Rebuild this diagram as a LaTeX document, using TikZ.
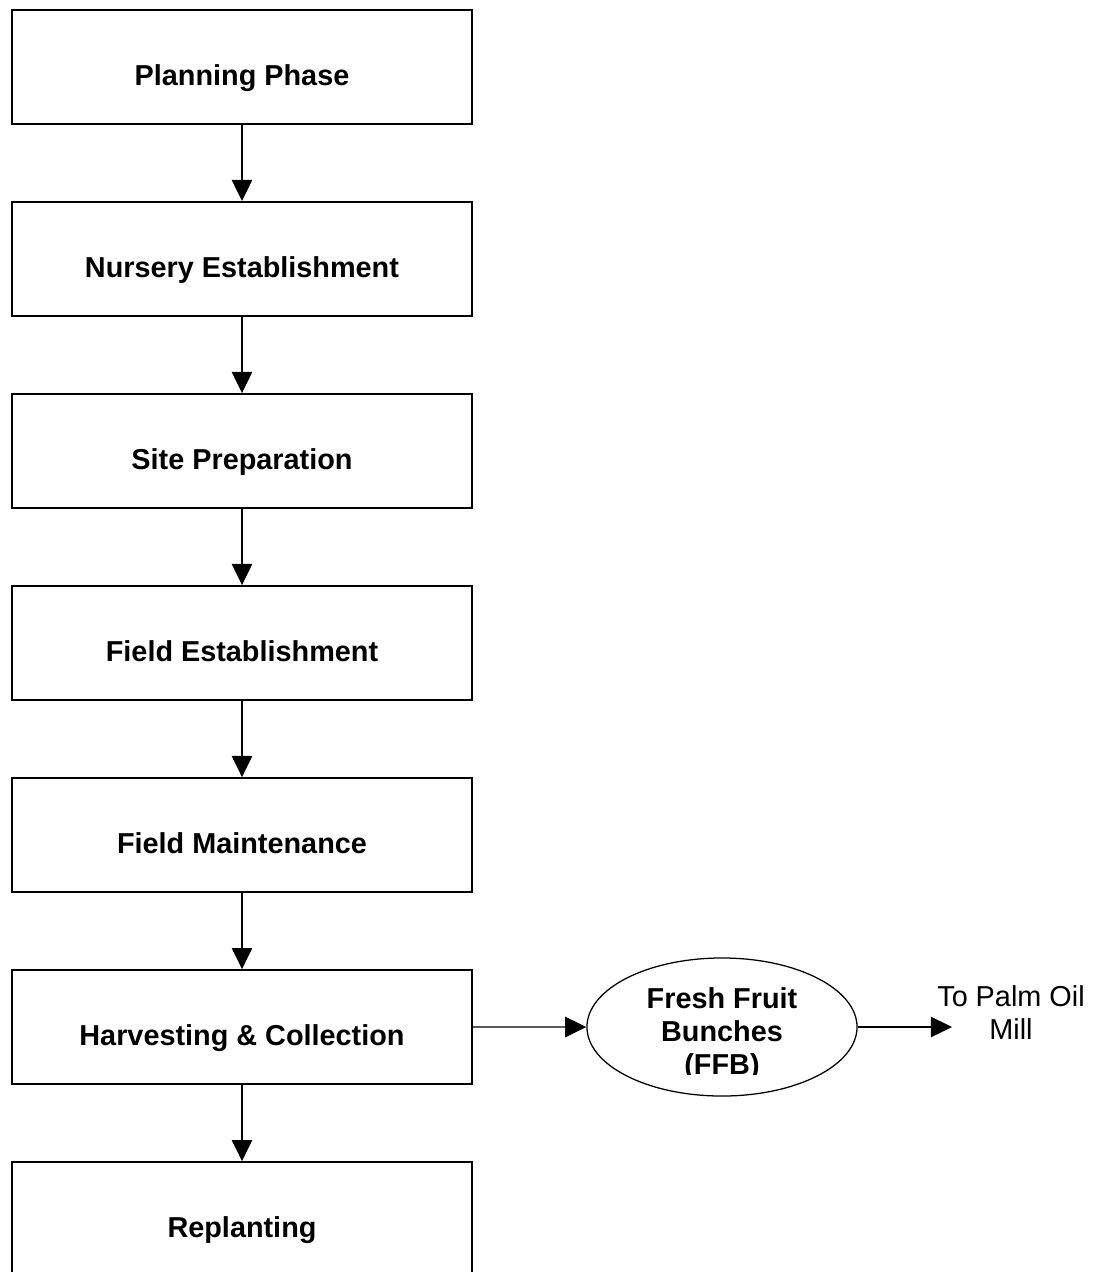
\documentclass[tikz,border=0pt]{standalone}
\usepackage{fontspec}
\setmainfont{Liberation Sans}
\usetikzlibrary{arrows.meta,shapes.geometric}

\begin{document}
\begin{tikzpicture}[x=0.025cm,y=-0.025cm,
    phase/.style={draw,line width=1.4pt,minimum width=11.5cm,minimum height=2.85cm,inner sep=0pt,
      font=\fontsize{20.5}{23.5}\selectfont\bfseries,text height=31pt,text depth=5pt},
    flow/.style={-{Triangle[length=15pt,width=14.5pt]},line width=0.9pt}]
  \useasboundingbox (0,0) rectangle (1102,1272);
  \clip (0,0) rectangle (1102,1272);
  \node[phase] (planning) at (242,67) {Planning Phase};
  \node[phase,anchor=north,yshift=-1.9cm] (nursery) at (planning.south) {Nursery Establishment};
  \node[phase,anchor=north,yshift=-1.9cm] (site prep) at (nursery.south) {Site Preparation};
  \node[phase,anchor=north,yshift=-1.9cm] (field est) at (site prep.south) {Field Establishment};
  \node[phase,anchor=north,yshift=-1.9cm] (field maint) at (field est.south) {Field Maintenance};
  \node[phase,anchor=north,yshift=-1.9cm] (harvesting) at (field maint.south) {Harvesting \& Collection};
  \node[phase,anchor=north,yshift=-1.9cm] (replanting) at (harvesting.south) {Replanting};
  % fresh fruit bunches, text cut off at the bottom as in the original
  \node[ellipse,draw,line width=0.9pt,minimum width=6.75cm,minimum height=3.45cm,inner sep=0pt] (ffb) at (722,1027) {};
  \begin{scope}
    \clip (ffb.west |- 0,960) rectangle (ffb.east |- 0,1074);
    \node[align=center,font=\fontsize{20.5}{23.5}\selectfont\bfseries] (ffb text) at (722,1034) {Fresh Fruit\\Bunches\\(FFB)};
  \end{scope}
  \node[align=center,font=\fontsize{20.5}{23.5}\selectfont] (mill) at (1011,1013) {To Palm Oil\\Mill};
  \coordinate (to mill) at (952,1027);
  \draw[flow] (planning) -- (nursery);
  \draw[flow] (nursery) -- (site prep);
  \draw[flow] (site prep) -- (field est);
  \draw[flow] (field est) -- (field maint);
  \draw[flow] (field maint) -- (harvesting);
  \draw[flow] (harvesting) -- (replanting);
  \draw[flow] (harvesting) -- (ffb);
  \draw[flow] (ffb) -- (to mill);
\end{tikzpicture}
\end{document}
